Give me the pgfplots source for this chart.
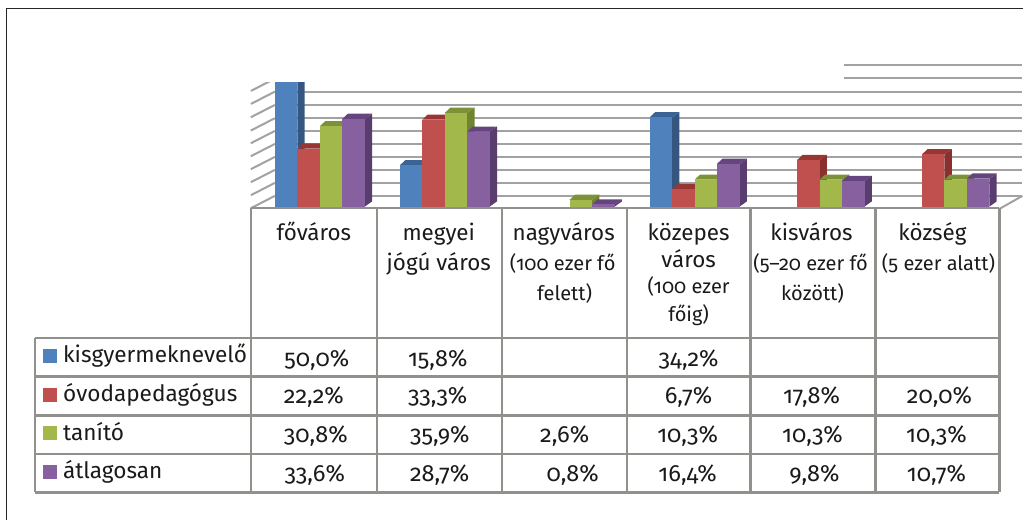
\documentclass[border=0pt]{standalone}
\usepackage{fontspec}
\setmainfont{Fira Sans}[Numbers=OldStyle]
\usepackage{pgfplots}
\usepackage{pgfplotstable}
\pgfplotsset{compat=1.18}

\definecolor{kfront}{HTML}{4F81BD}
\definecolor{kside}{HTML}{34567F}
\definecolor{ktop}{HTML}{3A6396}
\definecolor{ofront}{HTML}{C0504D}
\definecolor{oside}{HTML}{8A302E}
\definecolor{otop}{HTML}{983634}
\definecolor{tfront}{HTML}{A3B84B}
\definecolor{tside}{HTML}{6F8430}
\definecolor{ttop}{HTML}{7D9237}
\definecolor{afront}{HTML}{8760A0}
\definecolor{aside}{HTML}{5A3D6F}
\definecolor{atop}{HTML}{65447F}
\definecolor{gridc}{HTML}{A2A2A2}
\definecolor{tablec}{HTML}{92908C}
\definecolor{txt}{HTML}{1A1A1A}

% x = telepulestipus (0..5), y = szazalek
\pgfplotstableread{
x y
0 50.0
1 15.8
3 34.2
}\tKis
\pgfplotstableread{
x y
0 22.2
1 33.3
3 6.7
4 17.8
5 20.0
}\tOvo
\pgfplotstableread{
x y
0 30.8
1 35.9
2 2.6
3 10.3
4 10.3
5 10.3
}\tTan
\pgfplotstableread{
x y
0 33.6
1 28.7
2 0.8
3 16.4
4 9.8
5 10.7
}\tAtl

% one series: each point draws its bar as side, top and front
\newcommand{\barseries}[5]{%
  \addplot[only marks, scatter, mark=*, mark size=0pt, draw=none, fill=none,
    point meta=y, visualization depends on={y \as \rawv},
    scatter/@pre marker code/.code={%
      \pgfmathsetmacro\hh{\rawv*2.61}%
      \pgfmathsetmacro\xa{#2-11.25}%
      \pgfmathsetmacro\xb{#2+11.25}%
      \pgfmathsetmacro\xc{\xb+7.3}%
      \pgfmathsetmacro\xd{\xa+5.5}%
      \pgfmathsetmacro\yb{5.2-\hh}%
      \fill[#3] (\xb pt,0pt) -- (\xc pt,5.2pt) -- (\xc pt,\yb pt) -- (\xb pt,-\hh pt) -- cycle;
      \fill[#4] (\xa pt,0pt) -- (\xd pt,5.2pt) -- (\xc pt,5.2pt) -- (\xb pt,0pt) -- cycle;
      \fill[#5] (\xa pt,0pt) rectangle (\xb pt,-\hh pt);
    },
    scatter/@post marker code/.code={}
  ] table {#1};
}

\newcommand{\cellb}[3]{\node[anchor=base, text=txt, inner sep=0pt, font=\fontsize{22.4}{22.4}\selectfont] at (#1,#2) {#3};}
\newcommand{\cells}[3]{\node[anchor=base, text=txt, inner sep=0pt, font=\fontsize{20}{20}\selectfont] at (#1,#2) {#3};}
\newcommand{\cellv}[3]{\node[anchor=base, text=txt, inner sep=0pt, font=\fontsize{23.5}{23.5}\selectfont] at (#1,#2) {#3};}
\newcommand{\keylab}[3]{\node[anchor=base west, text=txt, inner sep=0pt, font=\fontsize{22.6}{22.6}\selectfont] at (#1,#2) {#3};}

\begin{document}
\begin{tikzpicture}
\begin{scope}[x=1pt,y=-1pt]
  \useasboundingbox (0,0) rectangle (1024,520);
  % left wall and floor edges
  \foreach \g in {65,78.7,91.7,105,118.3,131,144,157,170,183,196}
    \draw[gridc, line width=2pt] (251,\g+12.3) -- (275,\g);
  \draw[gridc, line width=2pt] (1000,209) -- (1023,196);
\end{scope}

\begin{axis}[
  at={(275pt,-206.7pt)}, anchor=south west,
  scale only axis,
  width=748pt, height=146.7pt,
  xmin=-0.36, xmax=5.624,
  ymin=0, ymax=56.2,
  axis line style={draw=none},
  major tick length=0pt,
  xtick=\empty,
  ytick={4.1,9.1,14.1,19.1,24.1,29.1,34.1,39.1,44.1,49.1,54.1},
  yticklabels={},
  ymajorgrids,
  grid style={gridc, line width=2pt},
  clip=false,
]
\barseries{\tKis}{-33.75}{kside}{ktop}{kfront}
\barseries{\tOvo}{-11.25}{oside}{otop}{ofront}
\barseries{\tTan}{11.25}{tside}{ttop}{tfront}
\barseries{\tAtl}{33.75}{aside}{atop}{afront}
\end{axis}

\begin{scope}[x=1pt,y=-1pt]
  % the top of the chart is covered, as in the original
  \fill[white] (245,40) rectangle (844,81.7);

  % frame
  \draw[black!85, line width=1.2pt] (6.5,520) -- (6.5,8.5) -- (1024,8.5);

  % data table
  \begin{scope}[tablec, line width=2.2pt]
    \draw (251,208.5) -- (1000,208.5);
    \draw (35,338.3) -- (1000,338.3);
    \draw (35,376.8) -- (1000,376.8);
    \draw (35,415.7) -- (1000,415.7);
    \draw (35,454.3) -- (1000,454.3);
    \draw (35,492.7) -- (1000,492.7);
    \draw (35,338.3) -- (35,492.7);
    \foreach \c in {251,377,502,627,751,876,1000}
      \draw (\c,208.5) -- (\c,492.7);
  \end{scope}

  % legend keys
  \fill[kfront] (43,349) rectangle (57,363);
  \fill[ofront] (43,388) rectangle (57,402);
  \fill[tfront] (43,426) rectangle (57,440);
  \fill[afront] (43,465) rectangle (57,479);
  \keylab{63}{363}{kisgyermeknevelő}
  \keylab{63}{402}{óvodapedagógus}
  \keylab{63}{440.7}{tanító}
  \keylab{63}{479}{átlagosan}

  % column heads
  \cellb{314}{241}{főváros}
  \cellb{439}{241}{megyei}
  \cellb{439}{270.7}{jógú város}
  \cellb{564}{241}{nagyváros}
  \cells{563}{270.7}{(100 ezer fő}
  \cells{565}{301}{felett)}
  \cellb{689}{241}{közepes}
  \cellb{689}{267.7}{város}
  \cells{689}{294}{(100 ezer}
  \cells{689}{321.7}{főig)}
  \cellb{812}{241}{kisváros}
  \cells{811}{270.7}{(5–20 ezer fő}
  \cells{813}{301}{között)}
  \cellb{933}{241}{község}
  \cells{939}{270.7}{(5 ezer alatt)}

  % values
  \cellv{317}{367}{50,0\%}
  \cellv{438}{367}{15,8\%}
  \cellv{689}{367}{34,2\%}
  \cellv{314}{404}{22,2\%}
  \cellv{438}{404}{33,3\%}
  \cellv{689}{404}{6,7\%}
  \cellv{812}{404}{17,8\%}
  \cellv{940}{404}{20,0\%}
  \cellv{316}{443}{30,8\%}
  \cellv{440}{443}{35,9\%}
  \cellv{565}{443}{2,6\%}
  \cellv{688}{443}{10,3\%}
  \cellv{813}{443}{10,3\%}
  \cellv{937}{443}{10,3\%}
  \cellv{315}{482}{33,6\%}
  \cellv{440}{482}{28,7\%}
  \cellv{573}{482}{0,8\%}
  \cellv{688}{482}{16,4\%}
  \cellv{815}{482}{9,8\%}
  \cellv{937}{482}{10,7\%}
\end{scope}
\end{tikzpicture}
\end{document}
